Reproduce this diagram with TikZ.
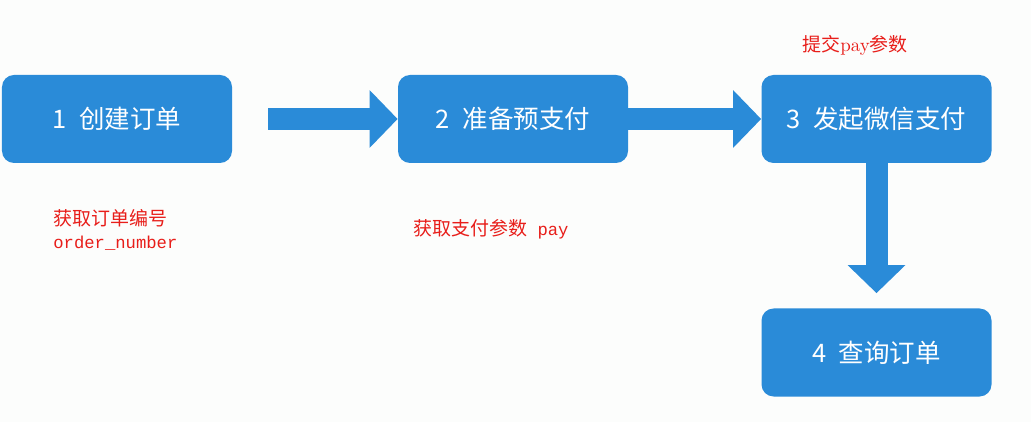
\documentclass[tikz,border=0pt]{standalone}
\usepackage{fontspec}
\newfontfamily\cjk{Noto Sans CJK SC}
\setmonofont{Liberation Mono}
\usepackage{tikz}
\usetikzlibrary{arrows.meta,positioning,calc}
\definecolor{stepblue}{RGB}{42,139,216}
\definecolor{notered}{RGB}{232,30,26}
\definecolor{paper}{RGB}{252,253,252}

\begin{document}
\begin{tikzpicture}[>=Stealth,
      stepbox/.style={fill=stepblue, rounded corners=0.24cm, minimum width=4.6cm, minimum height=1.76cm, inner sep=0pt, text=white, font=\cjk\fontsize{14.5}{17}\selectfont},
      flow/.style={draw=stepblue, line width=0.44cm, -{Triangle[length=0.56cm, width=1.12cm, fill=stepblue]}},
      note/.style={inner sep=0pt, text=notered, font=\cjk\fontsize{10.8}{13}\selectfont},
      code/.style={font=\ttfamily\fontsize{9.8}{13}\selectfont}]
      \useasboundingbox (0,0) rectangle (20.62,-8.44);
      \fill[paper] (0,0) rectangle (20.62,-8.44);
      % the four steps
      \node[stepbox] (create)  at (2.34,-2.38)  {1\hspace{0.5em}创建订单};
      \node[stepbox] (prepay)  at (10.26,-2.38) {2\hspace{0.5em}准备预支付};
      \node[stepbox] (wxpay)   at (17.53,-2.38) {3\hspace{0.5em}发起微信支付};
      \node[stepbox] (query)   at (17.53,-7.05) {4\hspace{0.5em}查询订单};
      % notes
      \node[note, anchor=west, align=left] (getno) at (1.06,-4.6)
            {获取订单编号\\{\ttfamily\fontsize{9.8}{13}\selectfont order\_number}};
      \node[note, anchor=west] (getpay) at (8.26,-4.58)
            {获取支付参数{\ttfamily\fontsize{9.8}{13}\selectfont\ pay}};
      \node[note] (submit) at (17.1,-0.9) {提交{\rmfamily pay}参数};
      % block arrows
      \draw[flow] ($(create.east)+(0.72,0)$) -- (prepay.west);
      \draw[flow] (prepay.east) -- (wxpay.west);
      \draw[flow] (wxpay.south) -- ($(query.north)+(0,0.3)$);
    \end{tikzpicture}
\end{document}
